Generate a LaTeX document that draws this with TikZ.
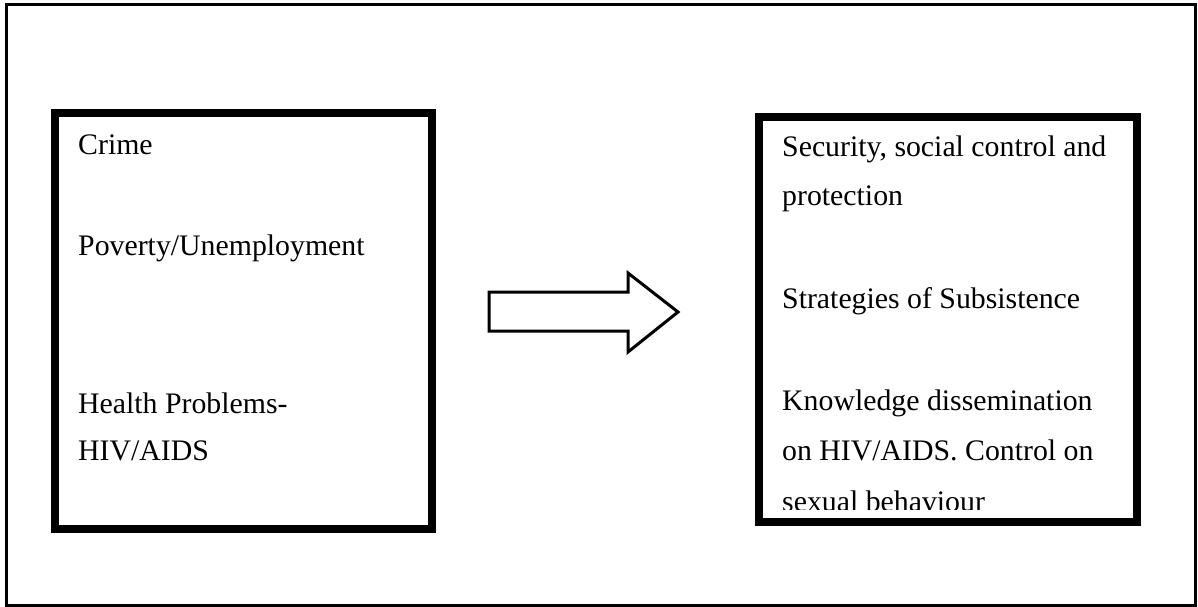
\documentclass[tikz,border=0pt]{standalone}
\usepackage{fontspec}
\setmainfont{Liberation Serif}
\begin{document}
\begin{tikzpicture}[x=1pt,y=-1pt,
  frame/.style={draw=black,line width=3pt},
  bigbox/.style={draw=black,line width=8.5pt},
  label/.style={anchor=base west,inner sep=0pt,font=\fontsize{29.8}{34}\selectfont},
  fatarrow/.style={draw=black,line width=3pt,fill=white,line join=miter}]
\useasboundingbox (0,0) rectangle (1198,607);
\draw[frame] (6,5) rectangle (1195,605);
% left box
\draw[bigbox] (55,113) rectangle (432,529);
\node[label] (crime) at (78,154) {Crime};
\node[label] (poverty) at (78,255) {Poverty/Unemployment};
\node[label] (health) at (78,413) {Health Problems-};
\node[label] (hiv) at (78,460) {HIV/AIDS};
% arrow
\coordinate (a1) at (489,292);
\coordinate (a2) at (628,292);
\coordinate (a3) at (628,273);
\coordinate (tip) at (678,312);
\coordinate (a5) at (628,352);
\coordinate (a6) at (628,331);
\coordinate (a7) at (489,331);
\draw[fatarrow] (a1) -- (a2) -- (a3) -- (tip) -- (a5) -- (a6) -- (a7) -- cycle;
% right box
\draw[bigbox] (759,117) rectangle (1137,522);
\node[label] (security) at (782,156) {Security, social control and};
\node[label] (protection) at (782,205) {protection};
\node[label] (strategies) at (782,308) {Strategies of Subsistence};
\node[label] (knowledge) at (782,410) {Knowledge dissemination};
\node[label] (onhiv) at (782,460) {on HIV/AIDS. Control on};
\begin{scope}
\clip (763,480) rectangle (1133,509);
\node[label] (sexual) at (782,511) {sexual behaviour};
\end{scope}
\end{tikzpicture}
\end{document}
